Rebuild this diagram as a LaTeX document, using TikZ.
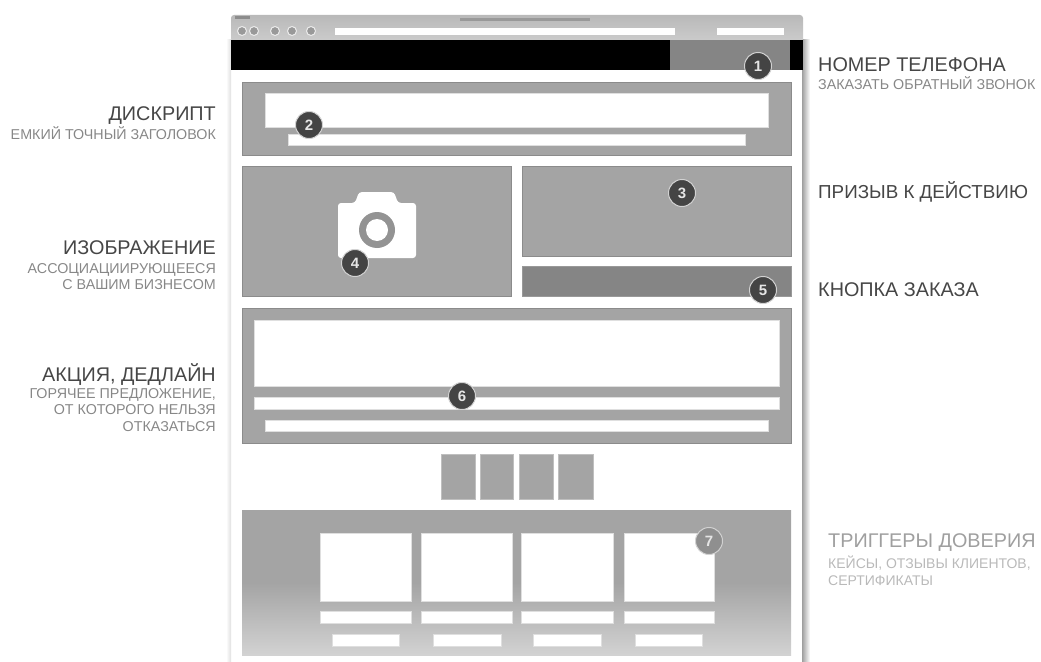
\documentclass[tikz,border=0pt]{standalone}
\usepackage{fontspec}
\setmainfont{Liberation Sans}
\usepackage{xcolor}
\usetikzlibrary{positioning}
\definecolor{panelgray}{RGB}{164,164,164}
\definecolor{buttongray}{RGB}{133,133,133}
\definecolor{badgegray}{RGB}{68,68,68}
\definecolor{titlegray}{RGB}{70,70,70}
\definecolor{notegray}{RGB}{135,135,135}

\begin{document}
\begin{tikzpicture}[
  x=1pt, y=-1pt,
  panel/.style={fill=panelgray, draw=panelgray!85!black, line width=0.6pt},
  blank/.style={fill=white, draw=gray!25, line width=0.5pt},
  tile/.style={fill=panelgray, draw=gray!50, line width=0.5pt},
  badge/.style={circle, fill=badgegray, draw=gray!35, line width=1pt, inner sep=0pt,
                minimum size=27pt, text=white!90!black, font=\fontsize{15}{15}\selectfont\bfseries},
  heading/.style={inner sep=0pt, text=titlegray, font=\fontsize{19.8}{22}\selectfont},
  subnote/.style={inner sep=0pt, text=notegray, font=\fontsize{14.3}{16.5}\selectfont},
  toolbtn/.style={circle, fill=gray!80, draw=white!85!gray, line width=1pt, inner sep=0pt, minimum size=9pt}]

  \useasboundingbox (0,0) rectangle (1041,661);

  % browser window
  \shade[left color=gray!75, right color=white] (802,40) rectangle (810,661);
  \shade[left color=white, right color=gray!25] (226,40) rectangle (231,661);
  \shade[top color=gray!55, bottom color=gray!40, rounded corners=3pt] (231,15) rectangle (803,42);
  \fill[gray!90] (235,16.5) rectangle (250,19);
  \fill[gray!80] (460,18.5) rectangle (590,21.5);
  \fill[white] (335,28) rectangle (675,35);
  \fill[white] (717,28) rectangle (784,35);
  \node[toolbtn] (back) at (242,31) {};
  \node[toolbtn, right=2pt of back] (forward) {};
  \node[toolbtn] (reload) at (275,31) {};
  \node[toolbtn] (stop) at (292,31) {};
  \node[toolbtn] (home) at (311,31) {};
  \fill[black] (231,40) rectangle (803,70);
  \fill[buttongray] (670,40) rectangle (790,70);

  % title block
  \fill[panel] (242,82) rectangle (791,155);
  \fill[blank] (265,93) rectangle (768,127);
  \fill[blank] (288,134) rectangle (745,145);

  % picture and offer
  \fill[panel] (242,166) rectangle (511,296);
  \fill[panel] (522,166) rectangle (791,256);
  \fill[buttongray, draw=gray!80] (522,266) rectangle (791,296);
  \fill[white, rounded corners=3pt] (338,203) -- (355,203) -- (359,192) -- (394,192)
    -- (398,203) -- (416,203) -- (416,258) -- (338,258) -- cycle;
  \fill[gray!85] (377,230) circle (18);
  \fill[white] (377,230) circle (11);

  % deadline block
  \fill[panel] (242,308) rectangle (791,443);
  \fill[blank] (254,320) rectangle (779,386);
  \fill[blank] (254,397) rectangle (779,409);
  \fill[blank] (265,420) rectangle (768,431);

  % small tiles
  \fill[tile] (441,454) rectangle (475,499);
  \fill[tile] (480,454) rectangle (513,499);
  \fill[tile] (519,454) rectangle (553,499);
  \fill[tile] (558,454) rectangle (593,499);

  % trust block
  \shade[top color=panelgray, bottom color=gray!35, middle color=panelgray] (242,510) rectangle (791,655);
  \fill[blank] (320,533) rectangle (411,601);
  \fill[blank] (421,533) rectangle (512,601);
  \fill[blank] (521,533) rectangle (613,601);
  \fill[blank] (624,533) rectangle (714,601);
  \fill[blank] (320,611) rectangle (411,623);
  \fill[blank] (421,611) rectangle (512,623);
  \fill[blank] (521,611) rectangle (613,623);
  \fill[blank] (624,611) rectangle (714,623);
  \fill[blank] (332,634) rectangle (399,646);
  \fill[blank] (433,634) rectangle (501,646);
  \fill[blank] (533,634) rectangle (601,646);
  \fill[blank] (635,634) rectangle (702,646);

  % numbers
  \node[badge] (n1) at (758,66) {1};
  \node[badge] (n2) at (309,125) {2};
  \node[badge] (n3) at (682,193) {3};
  \node[badge] (n4) at (355,263) {4};
  \node[badge] (n5) at (763,290) {5};
  \node[badge] (n6) at (462,396) {6};
  \node[badge, fill=gray!75!black!70] (n7) at (709,541) {7};

  % left captions
  \node[heading, anchor=east] (descript) at (216,116) {ДИСКРИПТ};
  \node[subnote, anchor=north east, align=right] (descriptsub) at ([yshift=-1pt]descript.south east) {ЕМКИЙ ТОЧНЫЙ ЗАГОЛОВОК};
  \node[heading, anchor=east] (image) at (216,248) {ИЗОБРАЖЕНИЕ};
  \node[subnote, anchor=north east, align=right] (imagesub) at ([yshift=-8pt]image.south east) {АССОЦИАЦИИРУЮЩЕЕСЯ\\С ВАШИМ БИЗНЕСОМ};
  \node[heading, anchor=east] (deadline) at (216,375) {АКЦИЯ, ДЕДЛАЙН};
  \node[subnote, anchor=north east, align=right] (deadlinesub) at ([yshift=-2pt]deadline.south east) {ГОРЯЧЕЕ ПРЕДЛОЖЕНИЕ,\\ОТ КОТОРОГО НЕЛЬЗЯ\\ОТКАЗАТЬСЯ};

  % right captions
  \node[heading, anchor=west] (phone) at (818,65) {НОМЕР ТЕЛЕФОНА};
  \node[subnote, anchor=north west] (phonesub) at ([yshift=-4pt]phone.south west) {ЗАКАЗАТЬ ОБРАТНЫЙ ЗВОНОК};
  \node[heading, anchor=west, font=\fontsize{18.8}{22}\selectfont] (action) at (818,192) {ПРИЗЫВ К ДЕЙСТВИЮ};
  \node[heading, anchor=west] (order) at (818,290) {КНОПКА ЗАКАЗА};
  \node[heading, anchor=west, text=gray!75] (trust) at (828,543) {ТРИГГЕРЫ ДОВЕРИЯ};
  \node[subnote, anchor=north west, align=left, text=gray!55, font=\fontsize{14}{16.5}\selectfont] (trustsub) at ([yshift=-4pt]trust.south west) {КЕЙСЫ, ОТЗЫВЫ КЛИЕНТОВ,\\СЕРТИФИКАТЫ};
\end{tikzpicture}
\end{document}
